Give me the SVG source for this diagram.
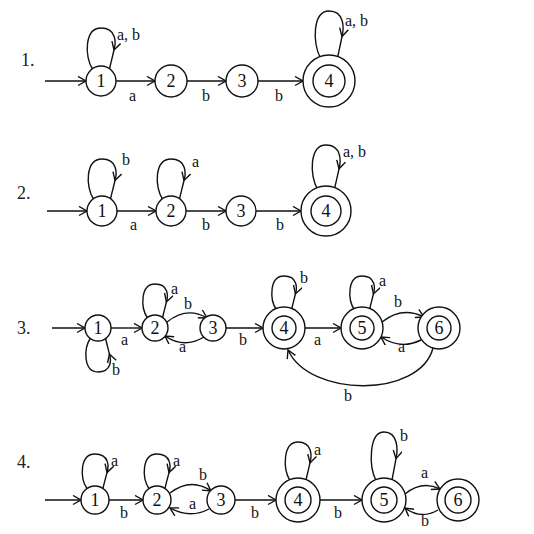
<svg xmlns="http://www.w3.org/2000/svg" width="534" height="534" viewBox="0 0 534 534">
<style>
  .st{fill:none;stroke:#111;stroke-width:1.4}
  .e{fill:none;stroke:#111;stroke-width:1.4;marker-end:url(#arr)}
  .c{fill:#fff;stroke:#111;stroke-width:1.4}
  .t{font-family:"Liberation Serif","Times New Roman",serif;font-size:16px;fill:#111}
  .n{font-family:"Liberation Serif","Times New Roman",serif;font-size:18px;fill:#111;text-anchor:middle}
  .h{font-family:"Liberation Serif","Times New Roman",serif;font-size:18px;fill:#222}
</style>
<defs>
  <marker id="arr" markerUnits="userSpaceOnUse" markerWidth="12" markerHeight="12" refX="9" refY="5" orient="auto">
    <path d="M1,0.5 L9,5 L1,9.5" fill="none" stroke="#111" stroke-width="1.4"/>
  </marker>
</defs>
<rect width="534" height="534" fill="#fff"/>

<g id="titles">
  <text class="h" x="21" y="66">1.</text>
  <text class="h" x="17" y="199">2.</text>
  <text class="h" x="17" y="334">3.</text>
  <text class="h" x="17" y="468">4.</text>
</g>

<g id="connectors">
  <!-- diagram 1 -->
  <line class="e" x1="45" y1="81" x2="86" y2="81"/>
  <path class="e" d="M 92.5,69 C 84.4,56.5 84.4,28 101,28 C 116.75,28 116,43.2 114,50"/>
  <path class="st" d="M 114,50 C 112.25,57.6 111,62.2 109.5,69"/>
  <line class="e" x1="116" y1="81" x2="155" y2="81"/>
  <line class="e" x1="187" y1="81" x2="226" y2="81"/>
  <line class="e" x1="258" y1="81" x2="303" y2="81"/>
  <path class="e" d="M 320.5,58 C 312.4,44 312.4,11 329,11 C 344.75,11 344,28.6 342,36.5"/>
  <path class="st" d="M 342,36.5 C 340.25,45.3 339,50.6 337.5,58"/>
  <!-- diagram 2 -->
  <line class="e" x1="47" y1="211" x2="87" y2="211"/>
  <path class="e" d="M 93.5,199 C 85.4,186.75 85.4,159 102,159 C 117.75,159 117,173.8 115,180.5"/>
  <path class="st" d="M 115,180.5 C 113.25,187.9 112,192.3 110.5,199"/>
  <line class="e" x1="117" y1="211" x2="156" y2="211"/>
  <path class="e" d="M 162.5,199 C 154.4,186.75 154.4,159 171,159 C 186.75,159 186,173.8 184,180.5"/>
  <path class="st" d="M 184,180.5 C 182.25,187.9 181,192.3 179.5,199"/>
  <line class="e" x1="186" y1="211" x2="226" y2="211"/>
  <line class="e" x1="256" y1="211" x2="301" y2="211"/>
  <path class="e" d="M 317.5,189 C 309.4,175.75 309.4,145 326,145 C 341.75,145 341,161.4 339,168.8"/>
  <path class="st" d="M 339,168.8 C 337.25,177 336,181.9 334.5,189"/>
  <!-- diagram 3 -->
  <line class="e" x1="52" y1="328" x2="85" y2="328"/>
  <path class="e" d="M 90.5,338 C 83.4,348.75 83.4,372 98,372 C 111.9,372 111.2,359.6 109.4,354"/>
  <path class="st" d="M 109.4,354 C 107.9,347.8 106.8,344.1 105.5,338"/>
  <line class="e" x1="111" y1="328" x2="142" y2="328"/>
  <path class="e" d="M 147.5,318 C 140.4,307.25 140.4,284 155,284 C 168.9,284 168.2,296.4 166.4,302"/>
  <path class="st" d="M 166.4,302 C 164.9,308.2 163.8,311.9 162.5,318"/>
  <path class="e" d="M 167,322 Q 187,306 207,318"/>
  <path class="e" d="M 204,337 Q 184,349 165,336"/>
  <line class="e" x1="226" y1="328" x2="263" y2="328"/>
  <path class="e" d="M 276.5,310 C 269.4,299.25 269.4,276 284,276 C 297.9,276 297.2,288.4 295.4,294"/>
  <path class="st" d="M 295.4,294 C 293.9,300.2 292.8,303.9 291.5,310"/>
  <line class="e" x1="305" y1="328" x2="341" y2="328"/>
  <path class="e" d="M 354.5,310 C 347.4,299.25 347.4,276 362,276 C 375.9,276 375.2,288.4 373.4,294"/>
  <path class="st" d="M 373.4,294 C 371.9,300.2 370.8,303.9 369.5,310"/>
  <path class="e" d="M 382,322 Q 402,306 424,317"/>
  <path class="e" d="M 421,340 Q 401,350 381,337"/>
  <path class="e" d="M 433,348 C 420,398 310,398 288,350"/>
  <!-- diagram 4 -->
  <line class="e" x1="45" y1="500" x2="81" y2="500"/>
  <path class="e" d="M 87.2,489 C 79.7,478 79.7,454 95,454 C 109.5,454 108.8,466.8 107,472.6"/>
  <path class="st" d="M 107,472.6 C 105.35,479 104.2,482.8 102.8,489"/>
  <line class="e" x1="109" y1="500" x2="143" y2="500"/>
  <path class="e" d="M 149.2,489 C 141.7,478 141.7,454 157,454 C 171.5,454 170.8,466.8 169,472.6"/>
  <path class="st" d="M 169,472.6 C 167.35,479 166.2,482.8 164.8,489"/>
  <path class="e" d="M 170,493 Q 191,477 211,491"/>
  <path class="e" d="M 209,509 Q 190,519 170,508"/>
  <line class="e" x1="235" y1="500" x2="276" y2="500"/>
  <path class="e" d="M 290.2,481 C 282.7,469 282.7,442 298,442 C 312.5,442 311.8,456.4 310,462.9"/>
  <path class="st" d="M 310,462.9 C 308.35,470.1 307.2,474.4 305.8,481"/>
  <line class="e" x1="320" y1="500" x2="362" y2="500"/>
  <path class="e" d="M 376.2,481 C 368.7,466.5 368.7,432 384,432 C 398.5,432 397.8,450.4 396,458.7"/>
  <path class="st" d="M 396,458.7 C 394.35,467.9 393.2,473.4 391.8,481"/>
  <path class="e" d="M 405,494 Q 422,480 440,489"/>
  <path class="e" d="M 438,510 Q 421,520 405,508"/>
</g>

<g id="edge-labels">
  <text class="t" x="117" y="40">a, b</text>
  <text class="t" x="129" y="101">a</text>
  <text class="t" x="202" y="101">b</text>
  <text class="t" x="275" y="101">b</text>
  <text class="t" x="345" y="26">a, b</text>

  <text class="t" x="122" y="165">b</text>
  <text class="t" x="192" y="167">a</text>
  <text class="t" x="130" y="230">a</text>
  <text class="t" x="202" y="230">b</text>
  <text class="t" x="276" y="230">b</text>
  <text class="t" x="343" y="157">a, b</text>

  <text class="t" x="112" y="375">b</text>
  <text class="t" x="121" y="345">a</text>
  <text class="t" x="171" y="294">a</text>
  <text class="t" x="184" y="309">b</text>
  <text class="t" x="179" y="352">a</text>
  <text class="t" x="239" y="345">b</text>
  <text class="t" x="300" y="283">b</text>
  <text class="t" x="314" y="345">a</text>
  <text class="t" x="379" y="286">a</text>
  <text class="t" x="394" y="307">b</text>
  <text class="t" x="398" y="352">a</text>
  <text class="t" x="344" y="401">b</text>

  <text class="t" x="111" y="466">a</text>
  <text class="t" x="173" y="466">a</text>
  <text class="t" x="199" y="480">b</text>
  <text class="t" x="189" y="509">a</text>
  <text class="t" x="120" y="518">b</text>
  <text class="t" x="251" y="518">b</text>
  <text class="t" x="314" y="455">a</text>
  <text class="t" x="334" y="518">b</text>
  <text class="t" x="400" y="441">b</text>
  <text class="t" x="421" y="478">a</text>
  <text class="t" x="421" y="526">b</text>
</g>

<g id="d1-n1"><circle class="c" cx="101" cy="81" r="15"/><text class="n" x="101" y="87">1</text></g>
<g id="d1-n2"><circle class="c" cx="171" cy="81" r="16"/><text class="n" x="171" y="87">2</text></g>
<g id="d1-n3"><circle class="c" cx="242" cy="81" r="16"/><text class="n" x="242" y="87">3</text></g>
<g id="d1-n4"><circle class="c" cx="329" cy="81" r="26"/><circle class="c" cx="329" cy="81" r="16"/><text class="n" x="329" y="87">4</text></g>

<g id="d2-n1"><circle class="c" cx="102" cy="211" r="15"/><text class="n" x="102" y="217">1</text></g>
<g id="d2-n2"><circle class="c" cx="171" cy="211" r="15"/><text class="n" x="171" y="217">2</text></g>
<g id="d2-n3"><circle class="c" cx="241" cy="211" r="15"/><text class="n" x="241" y="217">3</text></g>
<g id="d2-n4"><circle class="c" cx="326" cy="211" r="25"/><circle class="c" cx="326" cy="211" r="15"/><text class="n" x="326" y="217">4</text></g>

<g id="d3-n1"><circle class="c" cx="98" cy="328" r="13"/><text class="n" x="98" y="334">1</text></g>
<g id="d3-n2"><circle class="c" cx="155" cy="328" r="13"/><text class="n" x="155" y="334">2</text></g>
<g id="d3-n3"><circle class="c" cx="213" cy="328" r="13"/><text class="n" x="213" y="334">3</text></g>
<g id="d3-n4"><circle class="c" cx="284" cy="328" r="21"/><circle class="c" cx="284" cy="328" r="12"/><text class="n" x="284" y="334">4</text></g>
<g id="d3-n5"><circle class="c" cx="362" cy="328" r="21"/><circle class="c" cx="362" cy="328" r="12"/><text class="n" x="362" y="334">5</text></g>
<g id="d3-n6"><circle class="c" cx="439" cy="328" r="21"/><circle class="c" cx="439" cy="328" r="12"/><text class="n" x="439" y="334">6</text></g>

<g id="d4-n1"><circle class="c" cx="95" cy="500" r="14"/><text class="n" x="95" y="506">1</text></g>
<g id="d4-n2"><circle class="c" cx="157" cy="500" r="14"/><text class="n" x="157" y="506">2</text></g>
<g id="d4-n3"><circle class="c" cx="221" cy="500" r="14"/><text class="n" x="221" y="506">3</text></g>
<g id="d4-n4"><circle class="c" cx="298" cy="500" r="22"/><circle class="c" cx="298" cy="500" r="13"/><text class="n" x="298" y="506">4</text></g>
<g id="d4-n5"><circle class="c" cx="384" cy="500" r="22"/><circle class="c" cx="384" cy="500" r="13"/><text class="n" x="384" y="506">5</text></g>
<g id="d4-n6"><circle class="c" cx="458" cy="500" r="21"/><circle class="c" cx="458" cy="500" r="13"/><text class="n" x="458" y="506">6</text></g>
</svg>
